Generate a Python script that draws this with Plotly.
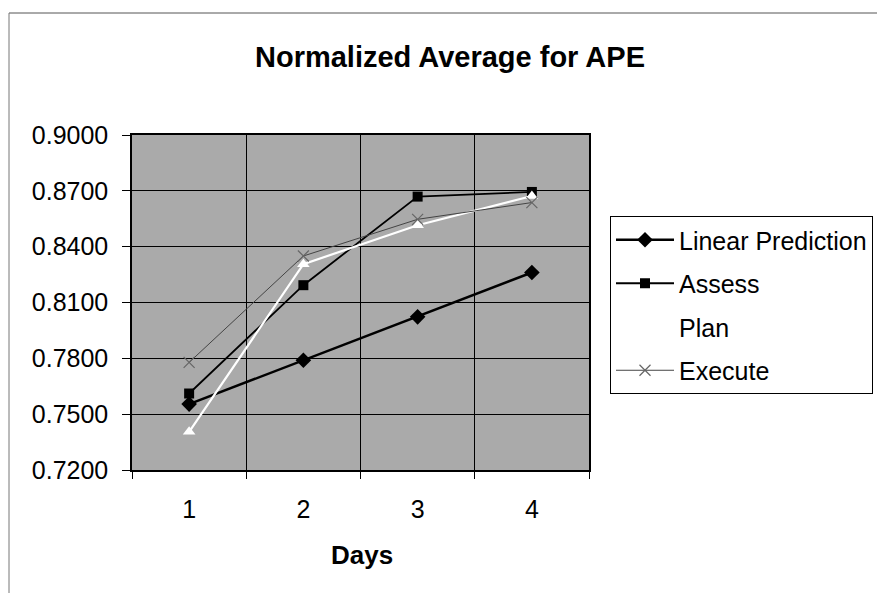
import plotly.graph_objects as go

days = ["1", "2", "3", "4"]
linear_prediction = [0.7554, 0.7790, 0.8023, 0.8261]
assess = [0.7611, 0.8193, 0.8669, 0.8694]
plan = [0.7405, 0.8306, 0.8515, 0.8672]
execute = [0.7778, 0.8350, 0.8547, 0.8637]
y_ticks = [0.72, 0.75, 0.78, 0.81, 0.84, 0.87, 0.90]

W, H = 877, 593
L, R, T, B = 132, 589, 135, 470
FONT = "Arial, Liberation Sans, sans-serif"

def xp(px):
    return (px - L) / (R - L)

def yp(py):
    return (B - py) / (B - T)

fig = go.Figure()
fig.add_trace(go.Scatter(x=days, y=linear_prediction, name="Linear Prediction", mode="lines+markers",
                         line=dict(color="black", width=2.5),
                         marker=dict(symbol="diamond", size=12, color="black"),
                         legendgroup="a"))
fig.add_trace(go.Scatter(x=days, y=assess, name="Assess", mode="lines+markers",
                         line=dict(color="black", width=1.8),
                         marker=dict(symbol="square", size=10, color="black"),
                         legendgroup="b"))
fig.add_trace(go.Scatter(x=days, y=plan, name="Plan", mode="lines+markers",
                         line=dict(color="white", width=2.2),
                         marker=dict(symbol="triangle-up", size=11, color="white"),
                         legendgroup="c"))
fig.add_trace(go.Scatter(x=days, y=execute, name="Execute", mode="lines+markers",
                         line=dict(color="#444444", width=1),
                         marker=dict(symbol="x-thin-open", size=11, color="#666666",
                                     line=dict(color="#666666", width=1.2)),
                         legendgroup="d"))

fig.update_layout(
    width=W, height=H,
    margin=dict(l=L, r=W - R, t=T, b=H - B, autoexpand=False),
    paper_bgcolor="white",
    plot_bgcolor="#aaaaaa",
    font=dict(family=FONT, color="black", size=25),
    title=dict(text="<b>Normalized Average for APE</b>", x=450 / W, xanchor="center",
               y=1 - 57 / H, yanchor="middle", font=dict(size=29, family=FONT)),
    showlegend=True,
    legend=dict(xref="container", yref="container", x=610 / W, y=1 - 216 / H,
                xanchor="left", yanchor="top",
                bgcolor="white", bordercolor="black", borderwidth=1,
                font=dict(size=25, family=FONT), traceorder="grouped",
                tracegroupgap=8, itemwidth=58),
    xaxis=dict(type="category", tickson="boundaries", ticks="outside", ticklen=7,
               tickcolor="black", showline=True, linecolor="black", linewidth=1.5,
               mirror=True, showgrid=True, gridcolor="black", gridwidth=1,
               ticklabelstandoff=16, tickfont=dict(size=25), range=[-0.5, 3.5]),
    yaxis=dict(range=[0.72, 0.90], tickvals=y_ticks, tickformat=".4f",
               ticks="outside", ticklen=8, tickcolor="black",
               showline=True, linecolor="black", linewidth=1.5, mirror=True,
               showgrid=True, gridcolor="black", gridwidth=1,
               ticklabelstandoff=9, tickfont=dict(size=25), zeroline=False),
    annotations=[dict(text="<b>Days</b>", x=xp(362), y=yp(555), xref="paper", yref="paper",
                      showarrow=False, font=dict(size=26, family=FONT),
                      xanchor="center", yanchor="middle")],
    shapes=[
        dict(type="line", xref="paper", yref="paper", x0=xp(9), x1=xp(877), y0=yp(13), y1=yp(13),
             line=dict(color="#555555", width=1)),
        dict(type="line", xref="paper", yref="paper", x0=xp(9), x1=xp(9), y0=yp(13), y1=yp(593),
             line=dict(color="#777777", width=1)),
    ],
)

fig.write_html("out.html")
